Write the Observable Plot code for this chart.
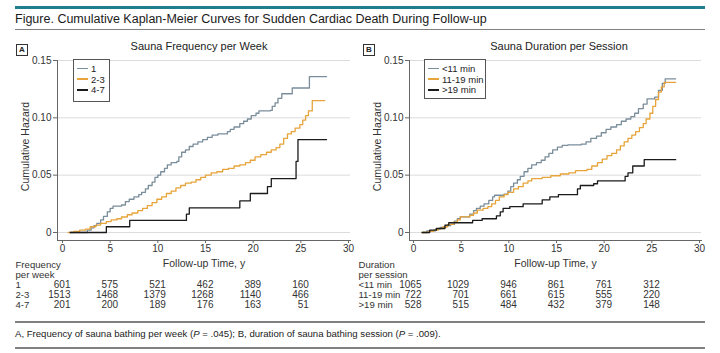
<!DOCTYPE html>
<html><head><meta charset="utf-8">
<script src="https://cdn.jsdelivr.net/npm/d3@7"></script>
<script src="https://cdn.jsdelivr.net/npm/@observablehq/plot@0.6"></script>
<style>
body{margin:0;background:#fff;}
#root{position:relative;width:720px;height:353px;overflow:hidden;font-family:"Liberation Sans Narrow","Liberation Sans",sans-serif;color:#222;}
.abs{position:absolute;}
.teal{left:15px;top:6px;width:690px;height:3px;background:#1f7d8c;}
.grey{left:15px;width:690px;height:1.5px;background:#808080;}
.title{left:15px;top:11px;font-size:12.5px;line-height:16px;white-space:nowrap;color:#1a1a1a;}
.caption{left:15px;top:327px;font-size:9.6px;line-height:14px;white-space:nowrap;color:#222;}
.plab{width:10px;height:10px;border:1px solid #333;font-size:8px;font-weight:bold;line-height:10px;text-align:center;font-family:"Liberation Sans",sans-serif;}
.ptitle{font-size:11px;line-height:12px;white-space:nowrap;transform:translateX(-50%);color:#222;}
.legend{border:1px solid #555;background:#fff;font-size:9.5px;color:#222;}
.item{position:absolute;left:3px;white-space:nowrap;line-height:10px;height:10px;}
.item span.sw{display:inline-block;width:11px;height:1.6px;vertical-align:middle;margin-right:3px;position:relative;top:-1px;}
</style>
</head><body>
<div id="root">
  <div class="abs teal"></div>
  <div class="abs title">Figure. Cumulative Kaplan-Meier Curves for Sudden Cardiac Death During Follow-up</div>
  <div class="abs grey" style="top:28.5px"></div>
  <div class="abs plab" style="left:16px;top:44px">A</div>
  <div class="abs plab" style="left:363px;top:44px">B</div>
  <div class="abs ptitle" style="left:199px;top:40px">Sauna Frequency per Week</div>
  <div class="abs ptitle" style="left:559px;top:40px">Sauna Duration per Session</div>
  <div id="pa" class="abs" style="left:0px;top:35px"></div>
  <div id="pb" class="abs" style="left:352px;top:35px"></div>
  <div id="la" class="abs legend" style="left:73px;top:59px;width:35px;height:41px"></div>
  <div id="lb" class="abs legend" style="left:424px;top:59px;width:60px;height:38px"></div>
  <div class="abs grey" style="top:321px"></div>
  <div class="abs caption">A, Frequency of sauna bathing per week (<i>P</i> = .045); B, duration of sauna bathing session (<i>P</i> = .009).</div>
  <div class="abs grey" style="top:347px"></div>
</div>
<script>
// ---------- data ----------
const timeTicks = [0, 5, 10, 15, 20, 25, 30];
const atRiskTimes = [0, 5, 10, 15, 20, 25];
const hazardTicks = [0, 0.05, 0.10, 0.15];
const seriesColors = ["#7a8d9a", "#e7a43a", "#1b1b1b"];

// Panel A: sauna frequency per week
const freqLabels = ["1", "2-3", "4-7"];
const freqHeader = ["Frequency", "per week"];
const freq1AtRisk = [601, 575, 521, 462, 389, 160];
const freq23AtRisk = [1513, 1468, 1379, 1268, 1140, 466];
const freq47AtRisk = [201, 200, 189, 176, 163, 51];

const freq1Time = [0.8,2.2,2.6,3.0,3.3,3.6,4.0,4.3,4.7,5.0,5.3,6.2,6.6,7.0,7.5,8.0,8.3,8.7,9.0,9.4,9.7,10.0,10.3,10.7,11.0,11.4,12.0,12.2,12.5,12.9,13.3,13.7,14.2,14.7,15.2,15.7,16.3,17.3,17.6,18.0,18.6,19.0,19.4,19.8,20.3,20.6,21.8,22.0,22.3,22.6,23.0,24.1,25.9,27.7];
const freq1Hazard = [0,0,0.002,0.004,0.006,0.008,0.011,0.014,0.018,0.021,0.023,0.024,0.027,0.029,0.031,0.033,0.035,0.038,0.041,0.044,0.048,0.050,0.053,0.056,0.059,0.061,0.062,0.066,0.070,0.072,0.075,0.077,0.079,0.081,0.083,0.085,0.086,0.088,0.090,0.092,0.095,0.097,0.099,0.102,0.104,0.106,0.1065,0.110,0.113,0.117,0.121,0.126,0.136,0.136];

const freq23Time = [0.6,1.2,1.8,2.4,2.9,3.5,4.0,4.6,5.1,5.7,6.2,6.8,7.3,7.9,8.4,8.9,9.4,9.9,10.4,10.9,11.4,11.9,12.4,12.9,13.5,14.0,14.5,15.0,15.6,16.2,16.8,17.4,18.0,18.6,19.2,19.7,20.2,20.8,21.4,21.9,22.4,22.8,23.2,23.6,24.0,24.4,24.9,25.2,25.5,25.8,26.2,27.5];
const freq23Hazard = [0,0.001,0.002,0.003,0.005,0.0065,0.008,0.0095,0.011,0.012,0.0135,0.0155,0.017,0.019,0.021,0.0235,0.026,0.029,0.031,0.034,0.036,0.039,0.041,0.043,0.044,0.046,0.048,0.050,0.052,0.053,0.055,0.056,0.058,0.059,0.061,0.063,0.066,0.068,0.070,0.072,0.074,0.077,0.082,0.086,0.088,0.091,0.094,0.098,0.102,0.106,0.115,0.115];

const freq47Time = [0.8,4.6,7.05,13.0,13.3,18.6,19.7,21.5,21.9,24.5,24.7,27.7];
const freq47Hazard = [0,0.005,0.0105,0.016,0.0215,0.0275,0.034,0.040,0.047,0.062,0.081,0.081];

// Panel B: sauna duration per session
const durLabels = ["<11 min", "11-19 min", ">19 min"];
const durHeader = ["Duration", "per session"];
const durShortAtRisk = [1065, 1029, 946, 861, 761, 312];
const durMidAtRisk = [722, 701, 661, 615, 555, 220];
const durLongAtRisk = [528, 515, 484, 432, 379, 148];

const durShortTime = [0.9,1.4,2.3,2.8,3.4,3.9,4.3,4.6,4.9,5.9,6.3,6.6,7.0,7.4,7.9,8.3,8.5,9.5,9.9,10.2,10.5,10.9,11.2,11.6,12.0,12.4,12.9,13.4,13.8,14.2,14.6,15.1,15.6,16.2,17.6,18.1,18.6,19.2,19.7,20.2,20.7,21.3,21.8,22.3,22.8,23.2,23.6,24.1,24.5,25.3,25.7,26.1,26.4,27.5];
const durShortHazard = [0,0.0014,0.003,0.0045,0.006,0.007,0.010,0.012,0.0136,0.016,0.019,0.021,0.023,0.025,0.028,0.031,0.0325,0.0335,0.036,0.040,0.043,0.046,0.049,0.053,0.056,0.059,0.061,0.063,0.066,0.069,0.072,0.0745,0.076,0.0765,0.077,0.079,0.082,0.084,0.087,0.090,0.092,0.094,0.097,0.099,0.101,0.104,0.108,0.112,0.1165,0.118,0.124,0.130,0.134,0.134];

const durMidTime = [0.9,1.6,2.1,2.6,3.1,3.6,4.2,4.6,4.9,5.9,6.3,6.7,7.3,7.8,8.2,8.6,9.0,9.5,9.9,10.5,11.0,11.5,12.0,12.4,13.5,14.4,15.4,16.3,17.0,18.2,18.7,19.3,19.8,20.3,20.8,21.3,21.7,22.1,22.5,22.9,23.3,23.7,24.1,24.4,24.8,25.1,25.4,25.7,26.0,26.3,27.5];
const durMidHazard = [0,0.001,0.002,0.0035,0.005,0.007,0.009,0.011,0.0136,0.015,0.017,0.0195,0.021,0.0225,0.025,0.028,0.031,0.033,0.035,0.038,0.040,0.043,0.045,0.047,0.048,0.0495,0.051,0.052,0.054,0.055,0.058,0.061,0.064,0.067,0.069,0.072,0.0755,0.079,0.082,0.085,0.088,0.0915,0.095,0.099,0.104,0.110,0.116,0.1225,0.127,0.131,0.131];

const durLongTime = [0.9,1.7,2.4,3.3,3.7,6.2,7.2,8.7,9.1,9.4,10.1,11.5,13.5,14.3,15.2,17.2,17.5,18.9,19.3,22.2,22.5,23.0,24.2,27.5];
const durLongHazard = [0,0.002,0.0035,0.0065,0.0085,0.0105,0.012,0.0145,0.018,0.021,0.0225,0.025,0.0285,0.031,0.033,0.038,0.041,0.0425,0.045,0.049,0.052,0.058,0.0635,0.0635];

// ---------- drawing ----------
const FONT = '"Liberation Sans Narrow","Liberation Sans",sans-serif';

function buildPanel(cfg) {
  const rows = [];
  cfg.series.forEach((s, i) => s.time.forEach((t, j) => rows.push({t, h: s.hazard[j], g: cfg.labels[i]})));
  const rowDy = [47, 57, 67];
  const tableMarks = [];
  cfg.atRisk.forEach((arr, i) => {
    tableMarks.push(Plot.text(atRiskTimes.map((t, j) => ({t, n: arr[j]})), {
      x: "t", text: d => String(d.n), frameAnchor: "bottom", dy: rowDy[i], dx: 8,
      textAnchor: "end", fontSize: 10, fill: "#333"
    }));
    tableMarks.push(Plot.text([cfg.labels[i]], {
      frameAnchor: "bottom-left", dx: cfg.rowX - cfg.ml, dy: rowDy[i],
      textAnchor: "start", fontSize: 9.6, fill: "#333"
    }));
  });
  cfg.header.forEach((h, i) => {
    tableMarks.push(Plot.text([h], {
      frameAnchor: "bottom-left", dx: cfg.rowX - cfg.ml, dy: 27 + 10 * i,
      textAnchor: "start", fontSize: 9.6, fill: "#333"
    }));
  });
  return Plot.plot({
    width: cfg.width, height: 275,
    marginLeft: cfg.ml, marginRight: cfg.mr, marginTop: 25, marginBottom: 70,
    insetLeft: cfg.il, insetRight: 2, insetBottom: 8, insetTop: 0,
    style: {fontFamily: FONT, fontSize: "10px", color: "#333", background: "transparent", overflow: "visible"},
    x: {domain: [0, 30]},
    y: {domain: [0, 0.15]},
    color: {domain: cfg.labels, range: seriesColors},
    marks: [
      Plot.gridY(hazardTicks, {stroke: "#dcdcdc", strokeOpacity: 1}),
      Plot.frame({anchor: "left", stroke: "#666"}),
      Plot.frame({anchor: "bottom", stroke: "#666"}),
      Plot.axisX(timeTicks, {tickSize: 3, tickPadding: 1, label: null, fontSize: 10, stroke: "#666", fill: "#333"}),
      Plot.axisY(hazardTicks, {tickSize: 4, tickPadding: 2, label: null, fontSize: 10, stroke: "#666", fill: "#333",
        tickFormat: d => d === 0 ? "0" : d.toFixed(2)}),
      Plot.line(rows, {x: "t", y: "h", z: "g", stroke: "g", curve: "step-after", strokeWidth: 1.3}),
      Plot.text(["Follow-up Time, y"], {frameAnchor: "bottom", dy: 26, fontSize: 10.5, fill: "#333"}),
      Plot.text(["Cumulative Hazard"], {frameAnchor: "left", textAnchor: "middle", rotate: -90, dx: -32, dy: -4, fontSize: 10.5, fill: "#333"}),
      ...tableMarks
    ]
  });
}

document.getElementById("pa").append(buildPanel({
  width: 360, ml: 57, mr: 10, il: 5, rowX: 15,
  labels: freqLabels, header: freqHeader,
  series: [{time: freq1Time, hazard: freq1Hazard}, {time: freq23Time, hazard: freq23Hazard}, {time: freq47Time, hazard: freq47Hazard}],
  atRisk: [freq1AtRisk, freq23AtRisk, freq47AtRisk]
}));
document.getElementById("pb").append(buildPanel({
  width: 368, ml: 57, mr: 19, il: 4, rowX: 6,
  labels: durLabels, header: durHeader,
  series: [{time: durShortTime, hazard: durShortHazard}, {time: durMidTime, hazard: durMidHazard}, {time: durLongTime, hazard: durLongHazard}],
  atRisk: [durShortAtRisk, durMidAtRisk, durLongAtRisk]
}));

function buildLegend(id, labels) {
  const el = document.getElementById(id);
  labels.forEach((lab, i) => {
    const it = document.createElement("div");
    it.className = "item";
    it.style.top = (4 + i * 10.7) + "px";
    const sw = document.createElement("span");
    sw.className = "sw";
    sw.style.background = seriesColors[i];
    it.append(sw, document.createTextNode(lab));
    el.append(it);
  });
}
buildLegend("la", freqLabels);
buildLegend("lb", durLabels);
</script>
</body></html>
